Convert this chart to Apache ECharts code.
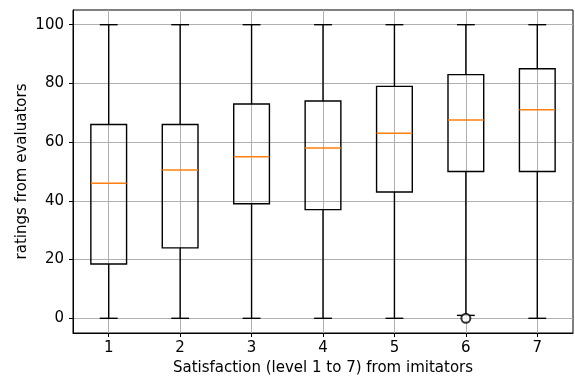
<!DOCTYPE html>
<html>
<head>
<meta charset="utf-8">
<script src="https://cdn.jsdelivr.net/npm/echarts@6/dist/echarts.min.js"></script>
<style>
  html, body { margin: 0; padding: 0; background: #fff; }
  #main { width: 575px; height: 381px; }
</style>
</head>
<body>
<div id="main"></div>
<script>
// satisfaction levels and box statistics
var levels = [1, 2, 3, 4, 5, 6, 7];
var whiskerLow = [0, 0, 0, 0, 0, 1, 0];
var q1 = [18.5, 24, 39, 37, 43, 50, 50];
var medians = [46, 50.5, 55, 58, 63, 67.5, 71];
var q3 = [66, 66, 73, 74, 79, 83, 85];
var whiskerHigh = [100, 100, 100, 100, 100, 100, 100];
var outliers = [[6, 0]];
var yTicks = [0, 20, 40, 60, 80, 100];

var font = "'DejaVu Sans', sans-serif";

var myChart = echarts.init(document.getElementById('main'));

var boxData = levels.map(function (lv, i) {
    return [lv, whiskerLow[i], q1[i], medians[i], q3[i], whiskerHigh[i]];
});

function renderBox(params, api) {
    var x = api.value(0);
    var pLow = api.coord([x, api.value(1)]);
    var pQ1 = api.coord([x, api.value(2)]);
    var pMed = api.coord([x, api.value(3)]);
    var pQ3 = api.coord([x, api.value(4)]);
    var pHigh = api.coord([x, api.value(5)]);
    var boxW = api.size([0.5, 0])[0];
    var capW = boxW / 2;
    var line = { stroke: '#000', lineWidth: 1.4 };
    return {
        type: 'group',
        children: [
            { type: 'line', shape: { x1: pLow[0], y1: pLow[1], x2: pQ1[0], y2: pQ1[1] }, style: line },
            { type: 'line', shape: { x1: pQ3[0], y1: pQ3[1], x2: pHigh[0], y2: pHigh[1] }, style: line },
            { type: 'line', shape: { x1: pLow[0] - capW / 2, y1: pLow[1], x2: pLow[0] + capW / 2, y2: pLow[1] }, style: line },
            { type: 'line', shape: { x1: pHigh[0] - capW / 2, y1: pHigh[1], x2: pHigh[0] + capW / 2, y2: pHigh[1] }, style: line },
            { type: 'rect', shape: { x: pQ3[0] - boxW / 2, y: pQ3[1], width: boxW, height: pQ1[1] - pQ3[1] },
              style: { fill: 'none', stroke: '#000', lineWidth: 1.4 } },
            { type: 'line', shape: { x1: pMed[0] - boxW / 2, y1: pMed[1], x2: pMed[0] + boxW / 2, y2: pMed[1] },
              style: { stroke: '#ff7f0e', lineWidth: 1.5 } }
        ]
    };
}

var option = {
    animation: false,
    grid: {
        left: 73, right: 2, top: 10, bottom: 48,
        show: true, borderColor: '#000', borderWidth: 1
    },
    xAxis: {
        type: 'value',
        min: 0.5,
        max: 7.5,
        name: 'Satisfaction (level 1 to 7) from imitators',
        nameLocation: 'middle',
        nameGap: 28,
        nameTextStyle: { fontFamily: font, fontSize: 15, color: '#000' },
        axisLine: { onZero: false, lineStyle: { color: '#000' } },
        axisTick: { show: true, length: 4, customValues: levels, lineStyle: { color: '#000' } },
        axisLabel: { customValues: levels, margin: 8, fontFamily: font, fontSize: 15, color: '#000' },
        splitLine: { show: false }
    },
    yAxis: {
        type: 'value',
        min: -5,
        max: 105,
        name: 'ratings from evaluators',
        nameLocation: 'middle',
        nameGap: 43,
        nameMoveOverlap: false,
        nameTextStyle: { fontFamily: font, fontSize: 15, color: '#000' },
        axisLine: { show: true, onZero: false, lineStyle: { color: '#000' } },
        axisTick: { show: true, length: 4, customValues: yTicks, lineStyle: { color: '#000' } },
        axisLabel: { customValues: yTicks, margin: 9, fontFamily: font, fontSize: 15, color: '#000' },
        splitLine: { show: false }
    },
    series: [
        {
            // grid lines drawn from the tick values
            type: 'line',
            data: [],
            silent: true,
            z: 0,
            markLine: {
                silent: true,
                symbol: 'none',
                z: 0,
                label: { show: false },
                lineStyle: { color: '#b0b0b0', width: 1, type: 'solid' },
                data: levels.map(function (v) { return { xAxis: v }; })
                    .concat(yTicks.map(function (v) { return { yAxis: v }; }))
            }
        },
        {
            type: 'custom',
            renderItem: renderBox,
            encode: { x: 0, y: [1, 2, 3, 4, 5] },
            data: boxData,
            z: 5
        },
        {
            type: 'scatter',
            symbol: 'emptyCircle',
            symbolSize: 9,
            itemStyle: { color: '#000', borderColor: '#000', borderWidth: 1.6 },
            data: outliers,
            z: 6
        }
    ]
};

myChart.setOption(option);
</script>
</body>
</html>
